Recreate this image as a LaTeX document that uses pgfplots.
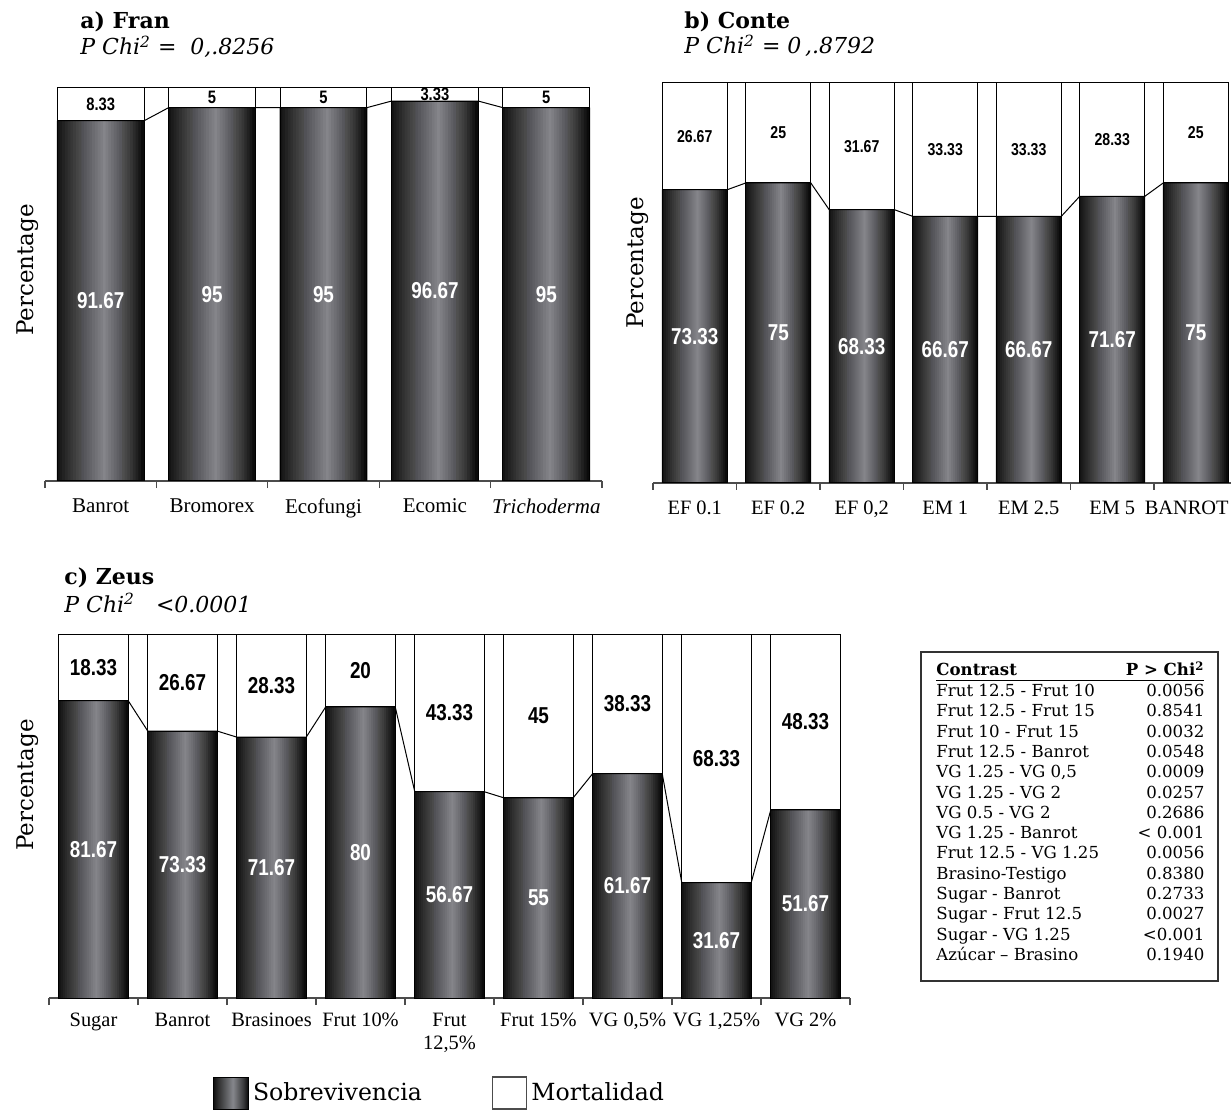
\documentclass[border=0pt]{standalone}
\usepackage{pgfplots}
\pgfplotsset{compat=1.18}
\usepackage{pgfplotstable}
\usepackage{fontspec}
\setmainfont{DejaVu Serif}
\newfontfamily\tickfont{Liberation Serif}
\newfontfamily\numfont[FakeStretch=0.82]{Liberation Sans}

\definecolor{g0}{RGB}{16,16,16}
\definecolor{g1}{RGB}{40,40,40}
\definecolor{g2}{RGB}{134,135,140}
\definecolor{g3}{RGB}{58,58,60}
\definecolor{g4}{RGB}{6,6,6}
\pgfdeclarehorizontalshading{barshade}{100bp}{color(0bp)=(g0); color(25bp)=(g0); color(30bp)=(g1); color(52.5bp)=(g2); color(67.5bp)=(g3); color(75bp)=(g4); color(100bp)=(g4)}

% 32 stripe colours of the bar gradient (left to right), same profile as the shading
\foreach \k in {0,...,31}{%
  \pgfmathsetmacro\f{(\k+0.5)/32}%
  \pgfmathsetmacro\g{\f<0.1 ? 16+240*\f : (\f<0.55 ? 40+(\f-0.1)*208.9 : (\f<0.85 ? 134-(\f-0.55)*253.3 : 58-(\f-0.85)*346.7))}%
  \pgfmathtruncatemacro\gi{\g}%
  \pgfmathtruncatemacro\bi{\g>80 ? \g+5 : \g}%
  \xglobal\definecolor{sk\k}{RGB}{\gi,\gi,\bi}%
}

\pgfplotstableread{
x s m
0 91.67 8.33
1 95 5
2 95 5
3 96.67 3.33
4 95 5
}\tabA

\pgfplotstableread{
x s m
0 73.33 26.67
1 75 25
2 68.33 31.67
3 66.67 33.33
4 66.67 33.33
5 71.67 28.33
6 75 25
}\tabB

\pgfplotstableread{
x s m
0 81.67 18.33
1 73.33 26.67
2 71.67 28.33
3 80 20
4 56.67 43.33
5 55 45
6 61.67 38.33
7 31.67 68.33
8 51.67 48.33
}\tabC

\pgfplotsset{
  panel/.style={
    scale only axis, clip=false,
    axis x line=bottom, axis y line=none,
    axis line style={-, draw=black!70, line width=0.6pt},
    ymin=0, ymax=100,
    tick align=outside,
    major tick length=0pt,
    xticklabel style={text=black, align=center, anchor=north},
    extra x tick style={major tick length=3.5pt, tick style={draw=black!70, line width=0.6pt}},
    extra x tick labels={},
  },
  whitebar/.style={ybar, bar width=0.78, bar shift=0pt, fill=white, draw=black, line width=0.5pt},
  outlinebar/.style={ybar, bar width=0.78, bar shift=0pt, fill=none, draw=black, line width=0.5pt},
  link/.style={sharp plot, draw=black, line width=0.5pt},
  lab/.style={draw=none, nodes near coords, point meta=explicit symbolic,
    nodes near coords style={font=\numfont\bfseries\fontsize{#1}{#1}\selectfont, anchor=center, inner sep=0pt}},
}

% dark (survival) bars drawn as overlapping vertical stripes of a left-to-right gradient
\newcommand\darkbars[1]{%
  \pgfplotsinvokeforeach{0,...,31}{%
    \addplot[ybar, bar width=0.032, bar shift={-0.378+(##1)*0.024387}, fill=sk##1, draw=none, forget plot] table[x=x, y=s] {#1};
  }%
  \addplot[outlinebar, forget plot] table[x=x, y=s] {#1};
}

\begin{document}
\begin{tikzpicture}
% ---------- panel a ----------
\begin{axis}[panel, at={(22.5pt,314.5pt)}, anchor=south west,
  width=278.5pt, height=196.5pt,
  xmin=-0.5, xmax=4.5,
  xtick={0,1,2,3,4},
  xticklabels={Banrot,Bromorex,Ecofungi,Ecomic,\textit{Trichoderma}},
  extra x ticks={-0.5,0.5,1.5,2.5,3.5,4.5},
  xticklabel style={font=\tickfont\fontsize{10.5}{11.5}\selectfont, yshift=-5.5pt}]
\addplot[whitebar] table[x=x, y expr=\thisrow{s}+\thisrow{m}] {\tabA};
\darkbars{\tabA}
\addplot[link] coordinates {(-0.39,100) (4.39,100)};
\addplot[link] coordinates {(-0.39,91.67) (0.39,91.67) (0.61,95) (1.39,95) (1.61,95) (2.39,95) (2.61,96.67) (3.39,96.67) (3.61,95) (4.39,95)};
\addplot[lab=11.5, nodes near coords style={text=white}] table[x=x, y expr=\thisrow{s}/2, meta=s] {\tabA};
\addplot[lab=9, nodes near coords style={text=black}] table[x=x, y expr=\thisrow{s}+\thisrow{m}/2, meta=m] {\tabA};
\end{axis}
% ---------- panel b ----------
\begin{axis}[panel, at={(326.5pt,313.5pt)}, anchor=south west,
  width=292.25pt, height=200pt,
  xmin=-0.5, xmax=6.5,
  xtick={0,1,2,3,4,5,6},
  xticklabels={EF 0.1,EF 0.2,{EF 0,2},EM 1,EM 2.5,EM 5,\hspace*{-9pt}BANROT},
  extra x ticks={-0.5,0.5,1.5,2.5,3.5,4.5,5.5,6.5},
  xticklabel style={font=\tickfont\fontsize{10.2}{11.5}\selectfont, yshift=-5.5pt}]
\addplot[whitebar] table[x=x, y expr=\thisrow{s}+\thisrow{m}] {\tabB};
\darkbars{\tabB}
\addplot[link] coordinates {(-0.39,100) (6.39,100)};
\addplot[link] coordinates {(-0.39,73.33) (0.39,73.33) (0.61,75) (1.39,75) (1.61,68.33) (2.39,68.33) (2.61,66.67) (3.39,66.67) (3.61,66.67) (4.39,66.67) (4.61,71.67) (5.39,71.67) (5.61,75) (6.39,75)};
\addplot[lab=11.5, nodes near coords style={text=white}] table[x=x, y expr=\thisrow{s}/2, meta=s] {\tabB};
\addplot[lab=8.6, nodes near coords style={text=black}] table[x=x, y expr=\thisrow{s}+\thisrow{m}/2, meta=m] {\tabB};
\end{axis}
% ---------- panel c ----------
\begin{axis}[panel, at={(24.5pt,56pt)}, anchor=south west,
  width=400.5pt, height=182pt,
  xmin=-0.5, xmax=8.5,
  xtick={0,1,2,3,4,5,6,7,8},
  xticklabels={Sugar,Banrot,Brasinoes,Frut 10\%,{Frut\\12,5\%},Frut 15\%,{VG 0,5\%},{VG 1,25\%},VG 2\%},
  extra x ticks={-0.5,0.5,1.5,2.5,3.5,4.5,5.5,6.5,7.5,8.5},
  xticklabel style={font=\tickfont\fontsize{10.2}{11.5}\selectfont, yshift=-4pt},
  legend columns=2,
  legend style={draw=none, fill=none, at={(0.4888,-0.261)}, anchor=center,
    font=\fontsize{11.8}{13}\selectfont, /tikz/every even column/.append style={column sep=33pt}}]
\addplot[whitebar, forget plot] table[x=x, y expr=\thisrow{s}+\thisrow{m}] {\tabC};
\darkbars{\tabC}
\addplot[link, forget plot] coordinates {(-0.39,100) (8.39,100)};
\addplot[link, forget plot] coordinates {(-0.39,81.67) (0.39,81.67) (0.61,73.33) (1.39,73.33) (1.61,71.67) (2.39,71.67) (2.61,80) (3.39,80) (3.61,56.67) (4.39,56.67) (4.61,55) (5.39,55) (5.61,61.67) (6.39,61.67) (6.61,31.67) (7.39,31.67) (7.61,51.67) (8.39,51.67)};
\addplot[lab=11.5, nodes near coords style={text=white}, forget plot] table[x=x, y expr=\thisrow{s}/2, meta=s] {\tabC};
\addplot[lab=11.5, nodes near coords style={text=black}, forget plot] table[x=x, y expr=\thisrow{s}+\thisrow{m}/2, meta=m] {\tabC};
\addlegendimage{legend image code/.code={\shade[shading=barshade, draw=black, line width=0.5pt] (0pt,-8pt) rectangle (17.5pt,8pt);}}
\addlegendentry{Sobrevivencia}
\addlegendimage{legend image code/.code={\draw[fill=white, draw=black!70, line width=0.7pt] (0pt,-8pt) rectangle (17pt,8pt);}}
\addlegendentry{Mortalidad}
\end{axis}
% ---------- titles ----------
\node[anchor=base west, font=\bfseries\fontsize{11}{13}\selectfont, inner sep=0pt] at (40pt,540.5pt) {a) Fran};
\node[anchor=base west, font=\itshape\fontsize{11}{13}\selectfont, inner sep=0pt] at (40pt,527.5pt) {P Chi\textsuperscript{2} =\ \ 0,.8256};
\node[anchor=base west, font=\bfseries\fontsize{11}{13}\selectfont, inner sep=0pt] at (342pt,540.5pt) {b) Conte};
\node[anchor=base west, font=\itshape\fontsize{11}{13}\selectfont, inner sep=0pt] at (342pt,528pt) {P Chi\textsuperscript{2} = 0\,,.8792};
\node[anchor=base west, font=\bfseries\fontsize{11}{13}\selectfont, inner sep=0pt] at (32pt,263pt) {c) Zeus};
\node[anchor=base west, font=\itshape\fontsize{11}{13}\selectfont, inner sep=0pt] at (32pt,249pt) {P Chi\textsuperscript{2}\ \ \ <0.0001};
% ---------- y labels ----------
\node[rotate=90, font=\fontsize{11.5}{13}\selectfont] at (14pt,420pt) {Percentage};
\node[rotate=90, font=\fontsize{11.5}{13}\selectfont] at (319pt,423.5pt) {Percentage};
\node[rotate=90, font=\fontsize{11.5}{13}\selectfont] at (14pt,162.5pt) {Percentage};
% ---------- contrast table ----------
\draw[line width=0.6pt, draw=black!80] (460.5pt,229pt) rectangle (609pt,64.5pt);
\node[anchor=north west, inner sep=0pt, font=\fontsize{8.3}{10.15}\selectfont] at (468pt,224.5pt) {%
\begin{tabular*}{134pt}{@{}l@{\extracolsep{\fill}}r@{}}
\textbf{Contrast} & \textbf{P > Chi\textsuperscript{2}}\\[-1pt]
\noalign{\hrule height 0.8pt}\noalign{\vskip0.5pt}
Frut 12.5 - Frut 10 & 0.0056\\
Frut 12.5 - Frut 15 & 0.8541\\
Frut 10 - Frut 15 & 0.0032\\
Frut 12.5 - Banrot & 0.0548\\
VG 1.25 - VG 0,5 & 0.0009\\
VG 1.25 - VG 2 & 0.0257\\
VG 0.5 - VG 2 & 0.2686\\
VG 1.25 - Banrot & < 0.001\\
Frut 12.5 - VG 1.25 & 0.0056\\
Brasino-Testigo & 0.8380\\
Sugar - Banrot & 0.2733\\
Sugar - Frut 12.5 & 0.0027\\
Sugar - VG 1.25 & <0.001\\
Azúcar – Brasino & 0.1940
\end{tabular*}};
\pgfresetboundingbox
\path[use as bounding box] (0pt,0pt) rectangle (615.5pt,555pt);
\end{tikzpicture}
\end{document}
